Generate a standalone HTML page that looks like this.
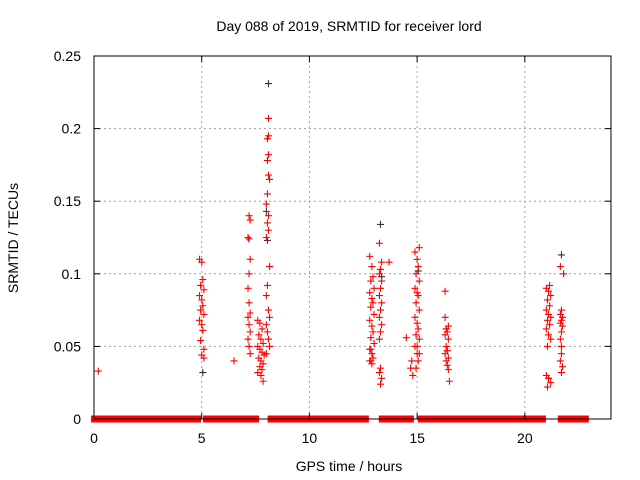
<!DOCTYPE html>
<html><head><meta charset="utf-8"><style>
html,body{margin:0;padding:0;background:#fff;}
svg{display:block;font-family:"Liberation Sans",sans-serif;}
</style></head><body>
<svg id="chart" width="640" height="480" viewBox="0 0 640 480">
<rect width="640" height="480" fill="#fff"/>
<text x="349" y="31" font-size="14" text-anchor="middle">Day 088 of 2019, SRMTID for receiver lord</text>
<text x="349" y="471" font-size="14" text-anchor="middle">GPS time / hours</text>
<text x="18" y="238" font-size="14" text-anchor="middle" transform="rotate(-90 18 238)">SRMTID / TECUs</text>
<g id="grid"></g><g id="marks"></g><g id="axes"></g>
</svg>
<script>
const xTicks=[0,5,10,15,20];
const yTicks=[0,0.05,0.1,0.15,0.2,0.25];
const yTickLabels=["0","0.05","0.1","0.15","0.2","0.25"];
const zeroRanges=[[0,4.83],[5.2,7.1],[7.28,7.52],[8.2,12.62],[13.36,14.71],[15.17,16.33],[16.57,20.84],[21.67,22.83]];
const redHours=[0.2,6.5,13.7,14.5,
4.9,5.0,5.05,4.95,5.1,4.9,5.0,5.05,4.95,5.1,4.9,5.0,5.05,4.95,5.1,5.0,5.1,
7.2,7.25,7.15,7.2,7.25,7.2,7.15,7.2,7.25,7.15,7.2,7.25,7.15,7.2,7.25,
7.6,7.7,7.8,7.65,7.75,7.85,7.6,7.7,7.8,7.9,7.65,7.75,7.85,7.7,7.8,7.6,7.75,7.85,
8.1,8.1,8.05,8.1,8.05,8.1,8.15,8.05,8.0,8.1,8.05,8.1,8.0,8.15,8.05,8.0,8.1,8.15,8.0,8.05,8.1,8.15,8.0,
12.8,12.9,12.85,13.0,12.8,12.9,12.95,12.85,13.0,12.8,12.9,12.95,12.85,13.0,12.8,12.9,12.95,12.85,13.0,12.8,12.9,12.95,12.85,
13.3,13.25,13.35,13.3,13.25,13.35,13.3,13.25,13.35,13.3,13.25,13.35,13.3,13.25,13.35,13.3,13.25,
14.9,15.0,15.05,14.95,15.1,14.9,15.0,15.05,14.95,15.1,14.9,15.0,15.05,14.95,15.1,14.9,15.0,15.05,14.95,15.1,15.0,15.1,14.75,14.7,14.8,
16.5,16.3,16.35,16.4,16.3,16.45,16.35,16.4,16.3,16.45,16.35,16.4,16.3,16.45,16.35,16.4,16.45,
21.0,21.1,21.2,21.05,21.15,21.0,21.1,21.2,21.05,21.15,21.0,21.1,21.2,21.05,21.15,21.0,21.1,21.2,21.05,
21.7,21.65,21.75,21.7,21.65,21.8,21.7,21.65,21.75,21.7,21.65,21.75,21.7,21.65,21.7];
const redValues=[0.033,0.040,0.108,0.056,
0.110,0.108,0.096,0.092,0.089,0.085,0.082,0.078,0.075,0.072,0.068,0.065,0.061,0.054,0.048,0.044,0.042,
0.140,0.137,0.125,0.124,0.110,0.100,0.090,0.080,0.073,0.070,0.065,0.060,0.055,0.050,0.045,
0.068,0.066,0.062,0.058,0.055,0.052,0.050,0.048,0.046,0.044,0.042,0.040,0.038,0.036,0.034,0.032,0.030,0.026,
0.207,0.195,0.193,0.182,0.178,0.168,0.165,0.155,0.148,0.140,0.135,0.130,0.125,0.105,0.092,0.085,0.075,0.070,0.065,0.060,0.055,0.050,0.045,0.040,0.038,0.048,0.052,
0.112,0.105,0.098,0.095,0.090,0.087,0.083,0.080,0.077,0.072,0.068,0.064,0.060,0.056,0.052,0.048,0.045,0.042,0.040,0.035,0.032,0.028,0.024,
0.121,0.108,0.103,0.100,0.095,0.090,0.085,0.080,0.075,0.070,0.065,0.060,0.055,0.050,0.045,0.040,0.035,
0.118,0.115,0.110,0.105,0.100,0.095,0.090,0.087,0.085,0.080,0.075,0.070,0.066,0.062,0.058,0.055,0.050,0.045,0.040,0.035,0.030,0.026,0.070,0.062,0.047,
0.088,0.064,0.062,0.060,0.058,0.055,0.050,0.047,0.045,0.042,0.040,0.037,0.034,0.030,0.028,0.025,0.022,
0.092,0.090,0.088,0.085,0.082,0.078,0.075,0.072,0.070,0.068,0.065,0.062,0.058,0.055,0.050,0.045,0.040,0.036,0.032,
0.105,0.100,0.075,0.072,0.070,0.068,0.066,0.064,0.060,0.055,0.050,0.045,0.040,0.025,0.018];
const blackHours=[8.1,8.0,8.05,13.3,21.7,5.05,13.35,15.05,21.1];
const blackValues=[0.231,0.143,0.123,0.134,0.113,0.032,0.098,0.102,0.028];

const X0=94,X1=611,Y0=419,Y1=56,XMAX=24,YMAX=0.25;
const xs=h=>X0+(X1-X0)*h/XMAX;
const ys=v=>Y0-(Y0-Y1)*v/YMAX;
const NS="http://www.w3.org/2000/svg";
function mk(tag,attrs,parent){const e=document.createElementNS(NS,tag);for(const k in attrs)e.setAttribute(k,attrs[k]);parent.appendChild(e);return e;}
const grid=document.getElementById('grid'),marks=document.getElementById('marks'),axes=document.getElementById('axes');
xTicks.forEach((t,i)=>{
  const x=xs(t);
  if(t>0){const g=mk('line',{x1:x,x2:x,y1:Y1,y2:Y0,stroke:'#a0a0a0','stroke-dasharray':'2,3'},grid);
  
  }
  mk('line',{x1:x,x2:x,y1:Y0,y2:Y0-6,stroke:'#000'},axes);
  mk('line',{x1:x,x2:x,y1:Y1,y2:Y1+6,stroke:'#000'},axes);
  const tx=mk('text',{x:x,y:443,'font-size':14,'text-anchor':'middle'},axes);tx.textContent=String(t);
  
  
});
yTicks.forEach((t,i)=>{
  const y=ys(t);
  if(t>0){const g=mk('line',{x1:X0,x2:X1,y1:y,y2:y,stroke:'#a0a0a0','stroke-dasharray':'2,3'},grid);
  
  }
  mk('line',{x1:X0,x2:X0+6,y1:y,y2:y,stroke:'#000'},axes);
  mk('line',{x1:X1,x2:X1-6,y1:y,y2:y,stroke:'#000'},axes);
  const tx=mk('text',{x:81,y:y+5,'font-size':14,'text-anchor':'end'},axes);tx.textContent=yTickLabels[i];
  
  
});
const frame=mk('rect',{x:X0,y:Y1,width:X1-X0,height:Y0-Y1,fill:'none',stroke:'#000'},axes);


function plus(h,v,col){
  const x=xs(h),y=ys(v);
  return mk('path',{d:`M${x-3.5},${y}H${x+3.5}M${x},${y-3.5}V${y+3.5}`,stroke:col,'stroke-width':1.1,fill:'none'},marks);
}
blackHours.forEach((h,i)=>{const p=plus(h,blackValues[i],'#333');
  
  });
redHours.forEach((h,i)=>{const p=plus(h,redValues[i],'#ff0000');
  
  });
zeroRanges.forEach(r=>{
  const a=xs(r[0]),b=xs(r[1]);
  const e=mk('rect',{x:a-3,y:ys(0)-3.5,width:b-a+6,height:7,fill:'#ff0000'},marks);
  
  
});
</script>
</body></html>
